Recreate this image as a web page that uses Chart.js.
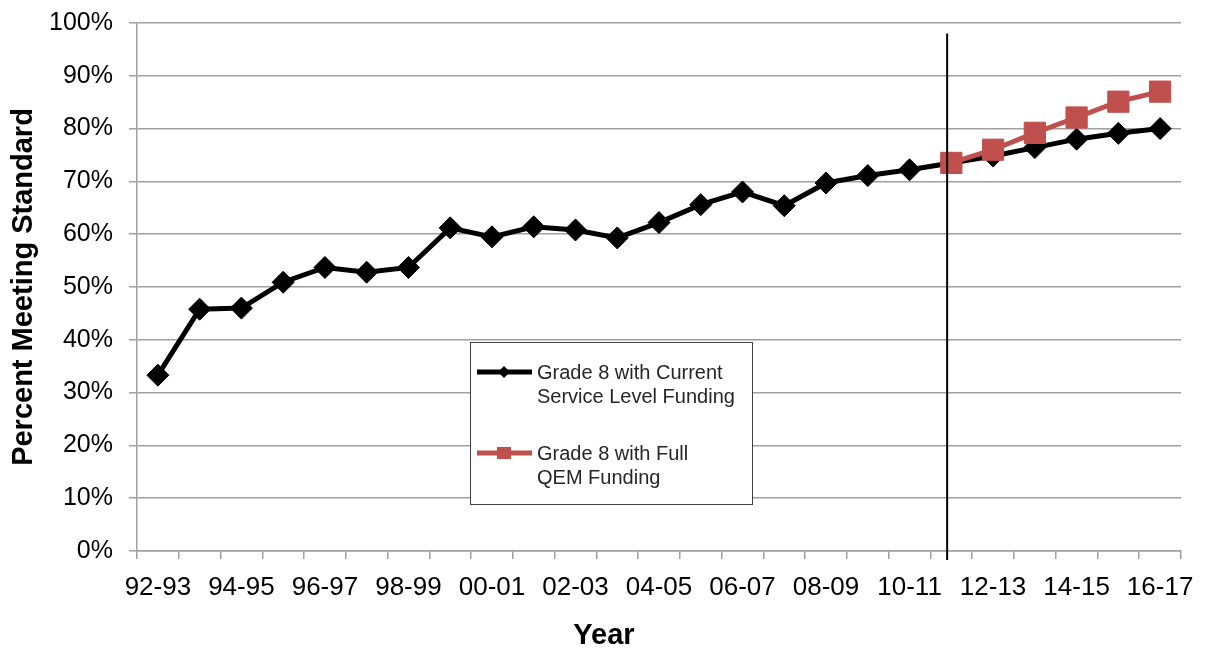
<!DOCTYPE html>
<html>
<head>
<meta charset="utf-8">
<title>Grade 8 Percent Meeting Standard</title>
<script src="https://cdn.jsdelivr.net/npm/chart.js@4"></script>
<style>
  body { margin: 0; background: #fff; }
  #wrap { width: 1207px; height: 656px; position: relative; }
</style>
</head>
<body>
<div id="wrap"><canvas id="gradeChart"></canvas></div>
<script>
// School years on the x axis
const years = ['92-93', '93-94', '94-95', '95-96', '96-97', '97-98', '98-99', '99-00',
  '00-01', '01-02', '02-03', '03-04', '04-05', '05-06', '06-07', '07-08', '08-09',
  '09-10', '10-11', '11-12', '12-13', '13-14', '14-15', '15-16', '16-17'];

// Percent meeting standard, current service level funding
const currentFunding = [33.3, 45.8, 46.0, 50.9, 53.7, 52.8, 53.7, 61.2, 59.5, 61.4,
  60.8, 59.3, 62.2, 65.6, 68.0, 65.4, 69.7, 71.1, 72.2, 73.5, 74.8, 76.4, 78.0, 79.1, 80.0];

// Projection with full QEM funding (starts at 11-12)
const qemFunding = [null, null, null, null, null, null, null, null, null, null,
  null, null, null, null, null, null, null, null, null, 73.5, 76.0, 79.2, 82.1, 85.1, 87.0];

const yTicks = [0, 10, 20, 30, 40, 50, 60, 70, 80, 90, 100];

const legendItems = [
  { lines: ['Grade 8 with Current', 'Service Level Funding'], color: '#000000', marker: 'diamond' },
  { lines: ['Grade 8 with Full', 'QEM Funding'], color: '#c0504d', marker: 'square' }
];

// where the projection starts (category index)
const dividerAt = 18.9;

const RED = '#c0504d';
const GRID = '#a0a0a0';
const FONT = '"Liberation Sans", Arial, sans-serif';

// vertical divider, the "Year" label and the boxed legend
const extras = {
  id: 'extras',
  afterDatasetsDraw(chart) {
    const { ctx, chartArea, scales } = chart;
    const x = scales.x.getPixelForValue(dividerAt);
    ctx.save();
    ctx.strokeStyle = '#000';
    ctx.lineWidth = 2;
    ctx.beginPath();
    ctx.moveTo(x, scales.y.getPixelForValue(98));
    ctx.lineTo(x, chartArea.bottom + 9);
    ctx.stroke();
    ctx.restore();
  },
  afterDraw(chart) {
    const { ctx } = chart;
    ctx.save();
    // x axis title
    ctx.fillStyle = '#000';
    ctx.font = 'bold 29px ' + FONT;
    ctx.textAlign = 'center';
    ctx.textBaseline = 'middle';
    ctx.fillText('Year', 604, 636);

    // legend box
    const bx = 470, by = 342, bw = 282, bh = 162;
    ctx.fillStyle = '#fff';
    ctx.fillRect(bx, by, bw, bh);
    ctx.strokeStyle = '#404040';
    ctx.lineWidth = 1;
    ctx.strokeRect(bx + 0.5, by + 0.5, bw, bh);

    ctx.font = '20px ' + FONT;
    ctx.textAlign = 'left';
    legendItems.forEach((item, i) => {
      const y = by + 30 + i * 81;
      ctx.strokeStyle = item.color;
      ctx.lineWidth = 5;
      ctx.beginPath();
      ctx.moveTo(477, y);
      ctx.lineTo(532, y);
      ctx.stroke();
      ctx.fillStyle = item.color;
      ctx.beginPath();
      if (item.marker === 'diamond') {
        ctx.moveTo(504, y - 6);
        ctx.lineTo(510, y);
        ctx.lineTo(504, y + 6);
        ctx.lineTo(498, y);
        ctx.closePath();
      } else {
        ctx.rect(497, y - 6, 14, 12);
      }
      ctx.fill();
      ctx.fillStyle = '#262626';
      item.lines.forEach((t, j) => ctx.fillText(t, 537, y + 1 + j * 24));
    });
    ctx.restore();
  }
};

new Chart(document.getElementById('gradeChart'), {
  type: 'line',
  data: {
    labels: years,
    datasets: [
      {
        label: 'Grade 8 with Current Service Level Funding',
        data: currentFunding,
        borderColor: '#000',
        backgroundColor: '#000',
        borderWidth: 5,
        pointStyle: 'rectRot',
        pointRadius: 11,
        pointBorderWidth: 1,
        tension: 0,
        order: 1
      },
      {
        label: 'Grade 8 with Full QEM Funding',
        data: qemFunding,
        borderColor: RED,
        backgroundColor: RED,
        borderWidth: 5,
        pointStyle: 'rect',
        pointRadius: 15,
        pointBorderWidth: 1,
        tension: 0,
        order: 0
      }
    ]
  },
  options: {
    responsive: true,
    maintainAspectRatio: false,
    animation: false,
    layout: { padding: { left: 0, right: 26, top: 23, bottom: 0 } },
    plugins: {
      legend: { display: false },
      tooltip: { enabled: false }
    },
    scales: {
      x: {
        offset: true,
        grid: {
          offset: true,
          drawOnChartArea: false,
          color: GRID,
          lineWidth: 1.5,
          tickLength: 8
        },
        border: { color: GRID, width: 1.5 },
        ticks: {
          autoSkip: false,
          maxRotation: 0,
          color: '#000',
          padding: 13,
          font: { family: FONT, size: 26 },
          callback: (v, i) => (i % 2 === 0 ? years[i] : '')
        },
        afterFit: (scale) => {
          scale.height = 105;
          scale.paddingLeft = 0;
          scale.paddingRight = 0;
        }
      },
      y: {
        min: 0,
        max: 100,
        afterBuildTicks: (scale) => { scale.ticks = yTicks.map(v => ({ value: v })); },
        grid: { color: GRID, lineWidth: 1.5, tickLength: 8 },
        border: { color: GRID, width: 1.5 },
        ticks: {
          color: '#000',
          padding: 16,
          font: { family: FONT, size: 25 },
          callback: (v) => v + '%'
        },
        title: {
          display: true,
          text: 'Percent Meeting Standard',
          color: '#000',
          padding: { top: 7, bottom: 0 },
          font: { family: FONT, size: 29, weight: 'bold' }
        },
        afterFit: (scale) => {
          scale.width = 137;
          scale.paddingTop = 0;
          scale.paddingBottom = 0;
        }
      }
    }
  },
  plugins: [extras]
});
</script>
</body>
</html>
